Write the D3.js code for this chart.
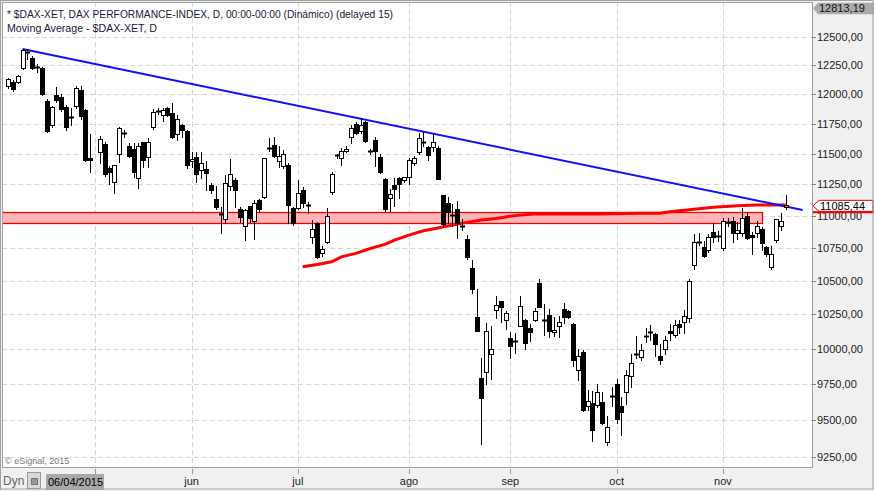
<!DOCTYPE html>
<html>
<head>
<meta charset="utf-8">
<script src="https://cdn.jsdelivr.net/npm/d3@7"></script>
<style>
  body { margin: 0; background: #f0f0f0; }
  svg { display: block; font-family: "Liberation Sans", Arial, sans-serif; }
</style>
</head>
<body>
<svg id="chart" width="874" height="491"></svg>
<script>
// ---- data (DAX Xetra, daily) ----
var dates = ("07/04 08/04 09/04 10/04 13/04 14/04 15/04 16/04 17/04 20/04 21/04 22/04 23/04 24/04 27/04 28/04 29/04 30/04 " +
  "01/05 04/05 05/05 06/05 07/05 08/05 11/05 12/05 13/05 14/05 15/05 18/05 19/05 20/05 21/05 22/05 26/05 27/05 28/05 29/05 " +
  "01/06 02/06 03/06 04/06 05/06 08/06 09/06 10/06 11/06 12/06 15/06 16/06 17/06 18/06 19/06 22/06 23/06 24/06 25/06 26/06 29/06 30/06 " +
  "01/07 02/07 03/07 06/07 07/07 08/07 09/07 10/07 13/07 14/07 15/07 16/07 17/07 20/07 21/07 22/07 23/07 24/07 27/07 28/07 29/07 30/07 31/07 " +
  "03/08 04/08 05/08 06/08 07/08 10/08 11/08 12/08 13/08 14/08 17/08 18/08 19/08 20/08 21/08 24/08 25/08 26/08 27/08 28/08 31/08 " +
  "01/09 02/09 03/09 04/09 07/09 08/09 09/09 10/09 11/09 14/09 15/09 16/09 17/09 18/09 21/09 22/09 23/09 24/09 25/09 28/09 29/09 30/09 " +
  "01/10 02/10 05/10 06/10 07/10 08/10 09/10 12/10 13/10 14/10 15/10 16/10 19/10 20/10 21/10 22/10 23/10 26/10 27/10 28/10 29/10 30/10 " +
  "02/11 03/11 04/11 05/11 06/11 09/11 10/11 11/11 12/11 13/11 16/11 17/11 18/11 19/11").split(" ");

var open = [12070,12110,12110,12225,12370,12315,12235,12225,11945,11735,11995,11980,11890,11800,11900,12040,11865,11460,
  null,11510,11580,11385,11265,11500,11675,11560,11535,11300,11595,11475,11720,11855,11825,11880,11840,11660,11735,11690,
  11440,11470,11365,11375,11245,11135,11015,10975,11240,11285,11055,10915,11075,10955,11127,11145,11545,11570,11440,11400,11410,11060,
  11060,11200,11085,10830,10940,10710,10795,11190,11485,11460,11525,11635,11745,11690,11765,11525,11610,11470,11295,11140,11245,11300,11285,
  11305,11420,11515,11600,11555,11555,11545,11160,11100,11005,11050,10918,10815,10595,10230,9790,9830,9960,10280,10345,10205,
  10075,10055,10165,10210,10150,10210,10485,10205,10240,10120,10165,10285,10270,10180,9845,9975,9600,9615,9605,9625,9350,9665,
  9750,9600,9695,9805,9962,9940,10092,10122,10105,9945,9995,10130,10095,10180,10190,10220,10615,10792,10755,10735,10875,10842,
  10745,10947,10955,10860,10865,10995,10845,10860,10895,10755,10600,10810,10915,11070];
var high = [12145,12120,12170,12395,12395,12330,12260,12235,11955,11900,12060,12005,11905,11880,12075,12070,11870,11660,
  null,11650,11600,11400,11410,11725,11700,11590,11590,11590,11600,11630,11870,11880,11885,11890,11925,11820,11750,11700,
  11515,11515,11510,11440,11260,11240,11070,11325,11455,11300,11070,11055,11080,11120,11130,11465,11630,11640,11565,11530,11420,11065,
  11285,11225,11110,10965,10950,10760,11060,11350,11495,11545,11560,11740,11760,11800,11770,11540,11640,11500,11300,11215,11300,11310,11310,
  11460,11480,11670,11680,11560,11660,11560,11165,11150,11090,11115,10975,10850,10655,10435,9935,10185,10165,10385,10350,10270,
  10120,10115,10385,10215,10180,10295,10510,10325,10290,10230,10235,10335,10280,10185,10000,9990,9705,9700,9750,9690,9530,9730,
  9785,9660,9850,9960,10090,10030,10145,10170,10110,10035,10090,10180,10210,10210,10280,10510,10855,10860,10800,10855,10940,10880,
  10980,10985,10990,10950,11060,11020,10870,10960,10910,10760,10765,10975,11020,11165];
var low = [12055,12025,12100,12215,12310,12215,12190,11990,11680,11720,11930,11860,11700,11735,11880,11790,11440,11350,
  null,11420,11320,11250,11180,11430,11640,11470,11310,11220,11390,11390,11705,11830,11770,11815,11630,11610,11635,11385,
  11390,11265,11300,11200,11180,11050,10860,10945,11200,11070,10950,10810,10950,10815,11035,11140,11520,11470,11390,11380,10945,10930,
  11050,11070,11020,10785,10670,10690,10790,11175,11460,11410,11510,11590,11660,11675,11600,11500,11400,11340,11040,11040,11080,11140,11270,
  11250,11410,11500,11560,11450,11520,11290,10910,10945,10915,10825,10890,10665,10405,10125,9340,9750,9785,10225,10190,10140,
  9930,9965,10160,9995,10055,10200,10300,10100,10080,10090,10085,10185,10220,9875,9780,9565,9570,9360,9590,9475,9330,9600,
  9480,9400,9610,9730,9935,9920,10050,10065,9945,9890,9960,10065,10085,10115,10115,10195,10585,10770,10680,10720,10795,10800,
  10735,10920,10795,10820,10840,10815,10700,10830,10735,10690,10590,10795,10890,11055];
var close = [12130,12045,12160,12385,12360,12228,12228,12005,11690,11890,11950,11870,11720,11810,12055,11815,11450,11450,
  null,11620,11330,11350,11405,11710,11670,11480,11350,11560,11450,11595,11850,11860,11865,11825,11635,11785,11700,11410,
  11455,11335,11420,11345,11200,11065,11005,11260,11330,11200,10990,11045,10985,11100,11050,11460,11550,11480,11480,11500,11085,10945,
  11180,11100,11080,10895,10675,10740,10995,11330,11490,11525,11540,11715,11675,11740,11605,11520,11520,11350,11055,11170,11210,11255,11305,
  11450,11460,11630,11595,11490,11600,11295,10935,11025,11000,10945,10912,10680,10440,10130,9650,10125,9995,10320,10305,10255,
  10020,10050,10310,10040,10120,10270,10305,10200,10130,10135,10190,10230,10230,9920,9945,9570,9630,9430,9690,9480,9450,9662,
  9510,9555,9810,9895,9958,9990,10088,10118,10030,9915,10065,10115,10170,10155,10235,10495,10795,10788,10685,10830,10830,10838,
  10955,10943,10860,10890,10980,10825,10830,10915,10785,10705,10705,10970,10955,11085.44];

// moving average, sampled along the drawn curve (bar index, value)
var maBar = [61, 64, 67, 69, 72, 75, 78, 80, 83, 86, 89, 92, 95, 98, 101, 103, 106, 109, 114, 122, 131, 135, 137, 142, 146, 151, 155, 161];
var maVal = [10604, 10622, 10642, 10680, 10706, 10744, 10775, 10808, 10847, 10881, 10903, 10926, 10947, 10965, 10978, 10990,
  11004, 11012, 11012, 11012, 11018, 11018, 11031, 11050, 11066, 11078, 11084, 11084];

// blue trend line anchors (bar index, value)
var trendBar = [3, 164.5];
var trendVal = [12395, 11045];

// red support zone
var zoneLow = 10940, zoneHigh = 11026, zoneEndBar = 156.2;

var yTicks = [9250, 9500, 9750, 10000, 10250, 10500, 10750, 11000, 11250, 11500, 11750, 12000, 12250, 12500];
var topPrice = 12813.19;
var lastPrice = 11085.44;
var startLabel = "06/04/2015";
var monthNames = ["ene", "feb", "mar", "abr", "may", "jun", "jul", "ago", "sep", "oct", "nov", "dic"];

// ---- layout ----
var W = 874, H = 491;
var plot = { left: 2, top: 2, right: 812, bottom: 467 };

var svg = d3.select("#chart");

var x = d3.scaleLinear().domain([0, dates.length - 1]).range([8.06, 785.7]);
var y = d3.scaleLog().domain([9186, topPrice]).range([plot.bottom, 2.8]);

function fmt(v) { return v.toFixed(2).replace(".", ","); }
function px(v) { return Math.round(v) + 0.5; }

svg.append("rect").attr("width", W).attr("height", H).attr("fill", "#f0f0f0");
svg.append("rect")
  .attr("x", plot.left + 0.5).attr("y", plot.top + 0.5)
  .attr("width", plot.right - plot.left).attr("height", plot.bottom - plot.top)
  .attr("fill", "#ffffff").attr("stroke", "#a0a0a0");

svg.append("clipPath").attr("id", "clip").append("rect")
  .attr("x", plot.left + 1).attr("y", plot.top + 1)
  .attr("width", plot.right - plot.left - 1).attr("height", plot.bottom - plot.top - 1);

var g = svg.append("g").attr("clip-path", "url(#clip)");

// month starts
var monthStarts = [];
dates.forEach(function (d, i) {
  if (i > 0 && d.slice(3) !== dates[i - 1].slice(3)) monthStarts.push(i);
});

// grid
g.selectAll(".hgrid").data(yTicks).join("line")
  .attr("x1", plot.left).attr("x2", plot.right)
  .attr("y1", function (d) { return px(y(d)); }).attr("y2", function (d) { return px(y(d)); })
  .attr("stroke", "#d6d6d6").attr("stroke-dasharray", "5,3");
g.selectAll(".vgrid").data(monthStarts).join("line")
  .attr("x1", function (i) { return px(x(i)); }).attr("x2", function (i) { return px(x(i)); })
  .attr("y1", plot.top).attr("y2", plot.bottom)
  .attr("stroke", "#d6d6d6").attr("stroke-dasharray", "5,3");

// support zone
g.append("rect")
  .attr("x", plot.left).attr("width", x(zoneEndBar) - plot.left)
  .attr("y", px(y(zoneHigh))).attr("height", Math.round(y(zoneLow) - y(zoneHigh)))
  .attr("fill", "#ffb5b5").attr("stroke", "#ee0000").attr("stroke-width", 1.3);

// moving average
var maLine = d3.line().x(function (d) { return x(d[0]); }).y(function (d) { return y(d[1]); });
g.append("path")
  .datum(d3.zip(maBar, maVal))
  .attr("d", maLine)
  .attr("fill", "none").attr("stroke", "#ff0000").attr("stroke-width", 3);

// trend line
g.append("path")
  .datum(d3.zip(trendBar, trendVal))
  .attr("d", maLine)
  .attr("fill", "none").attr("stroke", "#1010ff").attr("stroke-width", 2);

// candles
var bars = d3.range(dates.length).filter(function (i) { return close[i] != null; });
var last = dates.length - 1;
var cg = g.selectAll(".candle").data(bars).join("g").attr("class", "candle");

cg.append("line")
  .attr("x1", function (i) { return px(x(i)); }).attr("x2", function (i) { return px(x(i)); })
  .attr("y1", function (i) { return Math.round(y(high[i])); })
  .attr("y2", function (i) { return Math.round(y(low[i])) + 1; })
  .attr("stroke", "#000");

cg.each(function (i) {
  var sel = d3.select(this);
  var cx = Math.round(x(i));
  var top = Math.round(y(Math.max(open[i], close[i])));
  var bot = Math.round(y(Math.min(open[i], close[i])));
  if (bot - top < 2) {
    sel.append("line")
      .attr("x1", cx - 2).attr("x2", cx + 3)
      .attr("y1", top + 0.5).attr("y2", top + 0.5)
      .attr("stroke", "#000").attr("stroke-width", 2);
  } else if (close[i] >= open[i]) {
    sel.append("rect")
      .attr("x", cx - 1.5).attr("y", top + 0.5)
      .attr("width", 4).attr("height", bot - top)
      .attr("fill", i === last ? "#f2552c" : "#fff").attr("stroke", "#000");
  } else {
    sel.append("rect")
      .attr("x", cx - 2).attr("y", top)
      .attr("width", 5).attr("height", bot - top + 1)
      .attr("fill", "#000");
  }
});

// copyright
svg.append("text").attr("x", 5).attr("y", 464)
  .attr("font-size", 9).attr("fill", "#777").text("\u00a9 eSignal, 2015");

// title
svg.append("text").attr("x", 7).attr("y", 17.5).attr("font-size", 11).attr("fill", "#1a1a3a")
  .attr("textLength", 386).attr("lengthAdjust", "spacingAndGlyphs")
  .text("* $DAX-XET, DAX PERFORMANCE-INDEX, D, 00:00-00:00 (Din\u00e1mico) (delayed 15)");
svg.append("text").attr("x", 7).attr("y", 31.5).attr("font-size", 11).attr("fill", "#1a1a3a")
  .attr("textLength", 150).attr("lengthAdjust", "spacingAndGlyphs")
  .text("Moving Average - $DAX-XET, D");

// right axis
var ax = svg.append("g");
ax.selectAll(".tk").data(yTicks).join("line")
  .attr("x1", plot.right).attr("x2", plot.right + 4)
  .attr("y1", function (d) { return px(y(d)); }).attr("y2", function (d) { return px(y(d)); })
  .attr("stroke", "#888");
ax.selectAll(".tl").data(yTicks).join("text")
  .attr("x", 817).attr("y", function (d) { return y(d) + 4; })
  .attr("font-size", 11).attr("fill", "#222")
  .text(fmt);

// top price flag
var ty = y(topPrice) + 5.5;
ax.append("path")
  .attr("d", "M" + (plot.right + 1) + "," + ty + " L818," + (ty - 5.5) + " L874," + (ty - 5.5) +
    " L874," + (ty + 6) + " L818," + (ty + 6) + " Z")
  .attr("fill", "#ababab");
ax.append("text").attr("x", 819).attr("y", ty + 4).attr("font-size", 11).attr("fill", "#111")
  .text(fmt(topPrice));

// last price flag
var ly = y(lastPrice) + 1;
ax.append("line").attr("x1", plot.right + 1).attr("x2", W).attr("y1", y(zoneHigh)).attr("y2", y(zoneHigh))
  .attr("stroke", "#ee0000").attr("stroke-width", 2);
ax.append("path")
  .attr("d", "M" + (plot.right + 1) + "," + ly + " L819," + (ly - 5.5) + " L873," + (ly - 5.5) +
    " L873," + (y(zoneHigh) - 1) + " L819," + (y(zoneHigh) - 1) + " Z")
  .attr("fill", "#fff").attr("stroke", "#dd0000").attr("stroke-width", 1);
ax.append("text").attr("x", 820).attr("y", ly + 4).attr("font-size", 11).attr("fill", "#000")
  .text(fmt(lastPrice));

// bottom axis
var bx = svg.append("g");
bx.selectAll(".mt").data(monthStarts).join("line")
  .attr("x1", function (i) { return px(x(i)); }).attr("x2", function (i) { return px(x(i)); })
  .attr("y1", plot.bottom + 2).attr("y2", plot.bottom + 7)
  .attr("stroke", "#999");
bx.selectAll(".ml").data(monthStarts.filter(function (i) { return x(i) > 120; })).join("text")
  .attr("x", function (i) { return x(i); }).attr("y", 485)
  .attr("text-anchor", "middle").attr("font-size", 11).attr("fill", "#222")
  .text(function (i) { return monthNames[+dates[i].slice(3) - 1]; });

bx.append("text").attr("x", 3).attr("y", 485).attr("font-size", 12).attr("fill", "#666").text("Dyn");
bx.append("rect").attr("x", 27.5).attr("y", 472.5).attr("width", 13).attr("height", 16)
  .attr("fill", "#d8d8d8").attr("stroke", "#999");
bx.append("rect").attr("x", 31.5).attr("y", 478.5).attr("width", 6).attr("height", 6)
  .attr("fill", "#9a9a9a").attr("stroke", "#777");
bx.append("rect").attr("x", 46).attr("y", 474).attr("width", 58).attr("height", 16).attr("fill", "#a9a9a9");
bx.append("text").attr("x", 48).attr("y", 486).attr("font-size", 11).attr("fill", "#000")
  .text(startLabel);

// outer frame
svg.append("rect").attr("x", 0.5).attr("y", 0.5).attr("width", W - 1.5).attr("height", H - 2.5)
  .attr("fill", "none").attr("stroke", "#a0a0a0");
</script>
</body>
</html>
